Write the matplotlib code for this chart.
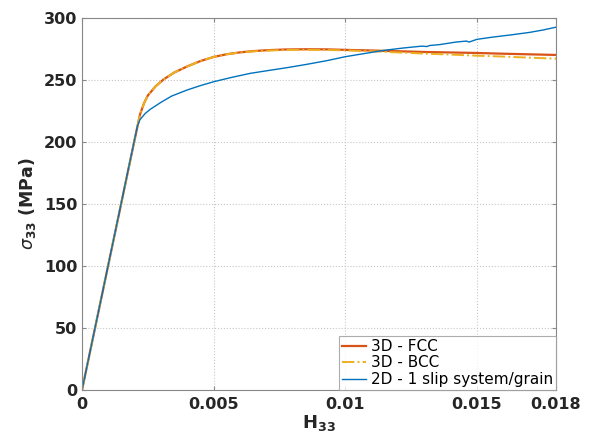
import matplotlib
matplotlib.use("Agg")
import matplotlib.pyplot as plt

strain_3d = [0.0, 0.00195, 0.00205, 0.0022, 0.00235, 0.0025, 0.0028, 0.0031, 0.0035, 0.004,
             0.0045, 0.005, 0.0055, 0.006, 0.0065, 0.007, 0.0077, 0.0085, 0.0093,
             0.010, 0.011, 0.012, 0.013, 0.014, 0.015, 0.016, 0.017, 0.018]
stress_fcc = [0.0, 197, 207, 222, 231, 237.5, 245, 250.5, 256, 261,
              265.3, 268.6, 270.8, 272.3, 273.3, 274.0, 274.6, 274.8, 274.7,
              274.3, 273.8, 273.2, 272.6, 272.2, 271.8, 271.2, 270.7, 270.2]
stress_bcc = [0.0, 197, 207, 222, 231, 237.5, 245, 250.5, 256, 261,
              265.3, 268.6, 270.8, 272.2, 273.1, 273.7, 274.2, 274.3, 274.2,
              273.9, 273.2, 272.2, 271.3, 270.5, 269.6, 268.9, 268.0, 267.2]

strain_2d = [0.0, 0.0021, 0.0022, 0.0024, 0.0026, 0.003, 0.0034, 0.004, 0.0045, 0.005,
             0.0057, 0.0064, 0.007, 0.0078, 0.0085, 0.0093, 0.010, 0.0108, 0.0115,
             0.0122, 0.0129, 0.0131, 0.0132, 0.0136, 0.0142, 0.0146, 0.0147, 0.0150,
             0.0156, 0.0163, 0.017, 0.0175, 0.018]
stress_2d = [0.0, 212.5, 218, 223, 226.5, 232, 237, 242, 245.5, 248.6,
             252.2, 255.4, 257.4, 260.0, 262.5, 265.6, 268.8, 271.6, 274.0,
             275.8, 277.3, 277.0, 277.8, 278.6, 280.6, 281.4, 280.6, 282.8,
             284.6, 286.4, 288.4, 290.3, 292.6]

labels = ["3D - FCC", "3D - BCC", "2D - 1 slip system/grain"]
xticks = [0, 0.005, 0.01, 0.015, 0.018]
xticklabels = ["0", "0.005", "0.01", "0.015", "0.018"]
yticks = [0, 50, 100, 150, 200, 250, 300]

fig = plt.figure(figsize=(5.95, 4.42), dpi=100)
ax = fig.add_axes([82/595, 52/442, (556-82)/595, (390-18)/442])

ax.plot(strain_3d, stress_fcc, color="#D95319", lw=1.6, label=labels[0])
ax.plot(strain_3d, stress_bcc, color="#EDB120", lw=1.4, ls="-.", label=labels[1])
ax.plot(strain_2d, stress_2d, color="#0072BD", lw=1.0, label=labels[2])

ax.set_xlim(0, 0.018)
ax.set_ylim(0, 300)
ax.set_xticks(xticks)
ax.set_xticklabels(xticklabels)
ax.set_yticks(yticks)
ax.grid(True, ls=":", color="#c8c8c8", lw=0.8)
ax.tick_params(direction="in", length=3, color="#888888", labelsize=11.5, top=True, right=True)
ax.tick_params(axis="x", pad=5)
for lab in ax.get_xticklabels() + ax.get_yticklabels():
    lab.set_fontweight("bold")
    lab.set_color("#262626")
for s in ax.spines.values():
    s.set_color("#888888")
    s.set_linewidth(0.8)

ax.set_xlabel(r"H$_{\mathbf{33}}$", fontsize=13, fontweight="bold", color="#262626", labelpad=1)
ax.set_ylabel(r"$\sigma_{\mathbf{33}}$ (MPa)", fontsize=12.5, fontweight="bold", color="#262626", labelpad=4)

leg = ax.legend(loc="lower right", fontsize=11, frameon=True, fancybox=False,
                borderaxespad=0.0, handlelength=1.6, handletextpad=0.3,
                borderpad=0.2, labelspacing=0.1)
leg.get_frame().set_edgecolor("#999999")
leg.get_frame().set_linewidth(0.8)

fig.savefig("out.png", dpi=100)
